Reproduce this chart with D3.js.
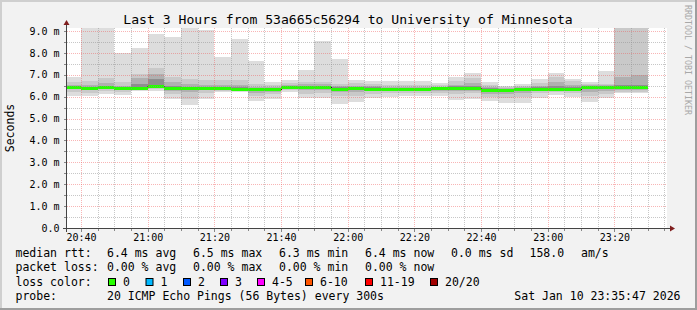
<!DOCTYPE html>
<html><head><meta charset="utf-8">
<script src="https://cdn.jsdelivr.net/npm/d3@7"></script>
<style>
html,body{margin:0;padding:0;background:#f2f2f2;}
svg{display:block;}
text{font-family:"DejaVu Sans Mono",monospace;fill:#000;}
</style>
</head><body>
<svg id="chart" width="697" height="310"></svg>
<script>
// ---------- data ----------
const barTimes = ["20:35","20:40","20:45","20:50","20:55","21:00","21:05","21:10","21:15","21:20",
  "21:25","21:30","21:35","21:40","21:45","21:50","21:55","22:00","22:05","22:10",
  "22:15","22:20","22:25","22:30","22:35","22:40","22:45","22:50","22:55","23:00",
  "23:05","23:10","23:15","23:20","23:25"];
// values in ms
const medianRtt = [6.45,6.40,6.43,6.38,6.40,6.47,6.40,6.38,6.40,6.40,
  6.36,6.33,6.34,6.42,6.45,6.45,6.37,6.38,6.37,6.34,
  6.34,6.36,6.38,6.40,6.40,6.30,6.30,6.34,6.37,6.33,
  6.33,6.45,6.45,6.42,6.42];
const pingMin = [6.02,6.02,6.10,6.08,6.25,6.25,5.90,5.62,5.90,6.20,
  6.20,5.82,5.90,6.20,5.92,5.95,5.68,5.77,5.92,6.00,
  6.03,6.05,6.03,5.85,5.90,5.80,5.70,5.70,5.95,6.08,
  6.00,5.77,5.92,6.15,6.15];
const pingMax = [6.88,9.40,9.40,8.01,8.21,8.86,8.71,9.40,9.05,7.81,
  8.62,7.63,6.68,6.76,7.22,8.53,7.72,6.76,6.72,6.72,
  6.70,6.72,6.61,6.88,7.07,6.66,6.49,6.56,6.81,7.07,
  6.81,6.66,7.19,9.40,9.40];
const band1Lo = [6.22,6.18,6.25,6.22,6.30,6.35,6.10,5.90,6.15,6.28,
  6.25,6.05,6.10,6.30,6.12,6.18,6.02,6.05,6.12,6.15,
  6.15,6.18,6.18,6.10,6.15,5.98,5.95,6.00,6.15,6.20,
  6.15,6.05,6.12,6.22,6.22];
const band1Hi = [6.65,6.72,6.85,6.68,7.03,7.32,6.88,6.80,6.76,6.75,
  6.78,6.60,6.55,6.62,6.68,6.66,6.60,6.62,6.58,6.55,
  6.55,6.55,6.52,6.70,6.85,6.55,6.45,6.50,6.62,6.90,
  6.70,6.60,6.60,9.40,9.40];
const band2Lo = [6.33,6.30,6.35,6.32,6.38,6.42,6.25,6.20,6.30,6.34,
  6.30,6.18,6.22,6.36,6.30,6.32,6.22,6.22,6.26,6.25,
  6.25,6.27,6.28,6.25,6.28,6.12,6.12,6.18,6.27,6.26,
  6.25,6.22,6.28,6.32,6.32];
const band2Hi = [6.55,6.55,6.62,6.50,6.83,7.05,6.65,6.58,6.55,6.52,
  6.52,6.45,6.45,6.52,6.58,6.56,6.50,6.50,6.48,6.45,
  6.45,6.45,6.45,6.55,6.62,6.45,6.38,6.42,6.48,6.65,
  6.52,6.55,6.52,6.92,6.98];
const band3Lo = [6.40,6.36,6.40,6.36,6.40,6.45,6.32,6.30,6.36,6.38,
  6.33,6.24,6.28,6.39,6.38,6.40,6.31,6.32,6.32,6.30,
  6.30,6.31,6.33,6.34,6.35,6.22,6.22,6.27,6.32,6.30,
  6.29,6.35,6.38,6.38,6.38];
const band3Hi = [6.50,6.46,6.50,6.44,6.60,6.80,6.48,6.45,6.46,6.45,
  6.42,6.38,6.40,6.46,6.50,6.50,6.42,6.43,6.42,6.40,
  6.40,6.40,6.42,6.47,6.50,6.38,6.35,6.38,6.42,6.48,
  6.42,6.50,6.48,6.55,6.55];

const yTicks = [0,1,2,3,4,5,6,7,8,9];
const yTickLabels = ["0.0","1.0 m","2.0 m","3.0 m","4.0 m","5.0 m","6.0 m","7.0 m","8.0 m","9.0 m"];
const xTickLabels = ["20:40","21:00","21:20","21:40","22:00","22:20","22:40","23:00","23:20"];

const titleText = "Last 3 Hours from 53a665c56294 to University of Minnesota";
const rttStats = ["6.4 ms avg","6.5 ms max","6.3 ms min","6.4 ms now","0.0 ms sd","158.0","am/s"];
const lossStats = ["0.00 % avg","0.00 % max","0.00 % min","0.00 % now"];
const lossLabels = ["0","1","2","3","4-5","6-10","11-19","20/20"];
const lossColors = ["#26ff00","#00b8ff","#0059ff","#7e00ff","#ff00ff","#ff5500","#ff0000","#a10000"];
const probeText = "20 ICMP Echo Pings (56 Bytes) every 300s";
const dateText = "Sat Jan 10 23:35:47 2026";

// ---------- layout ----------
const W = 697, H = 310;
const L = 67, R = 667, T = 28, B = 228;
const svg = d3.select("#chart");
const day = (hm, s=0) => { const [h,m] = hm.split(":").map(Number); return new Date(2026,0,10,h,m,s); };
const x = d3.scaleTime().domain([day("20:35",47), day("23:35",47)]).range([L, R]);
const y = d3.scaleLinear().domain([0, 9.137]).range([B, T]);

// background + frame
svg.append("rect").attr("width",W).attr("height",H).attr("fill","#f2f2f2");
svg.append("rect").attr("x",0).attr("y",0).attr("width",W).attr("height",2).attr("fill","#cfcfcf");
svg.append("rect").attr("x",0).attr("y",0).attr("width",2).attr("height",H).attr("fill","#cfcfcf");
svg.append("rect").attr("x",0).attr("y",H-2).attr("width",W).attr("height",2).attr("fill","#9e9e9e");
svg.append("rect").attr("x",W-2).attr("y",0).attr("width",2).attr("height",H).attr("fill","#9e9e9e");

// canvas
svg.append("rect").attr("x",L).attr("y",T).attr("width",R-L).attr("height",B-T).attr("fill","#fff");

svg.append("clipPath").attr("id","plotclip").append("rect")
  .attr("x",L).attr("y",T).attr("width",R-L).attr("height",B-T);
const plot = svg.append("g").attr("clip-path","url(#plotclip)").attr("shape-rendering","crispEdges");

const bars = barTimes.map((t,i)=>({
  t0: day(t), t1: new Date(day(t).getTime()+5*60000),
  med: medianRtt[i],
  bands: [[pingMin[i],pingMax[i]],[band1Lo[i],band1Hi[i]],[band2Lo[i],band2Hi[i]],[band3Lo[i],band3Hi[i]]]
}));
const smokeColors = ["#dddddd","#c9c9c9","#b0b0b0","#8e8e8e"];

bars.forEach(b=>{
  const x0 = Math.round(x(b.t0)), x1 = Math.round(x(b.t1));
  b.bands.forEach((bd,j)=>{
    const y0 = Math.round(y(bd[1])), y1 = Math.round(y(bd[0]));
    plot.append("rect").attr("x",x0).attr("width",x1-x0)
      .attr("y",y0).attr("height",Math.max(1,y1-y0)).attr("fill",smokeColors[j]);
  });
});

// grid (drawn over smoke, as rrdtool does)
const grid = svg.append("g").attr("shape-rendering","crispEdges");
const minorX = x.ticks(d3.timeMinute.every(5)).filter(d=>x(d)>L && x(d)<=R);
const majorX = xTickLabels.map(s=>day(s));
const minorY = d3.range(0.5, 9.1, 0.5).filter(v=>v%1!==0);
const minorCol = "rgba(143,143,143,0.5)", majorCol = "rgba(240,90,90,0.45)";
minorX.forEach(d=>{
  if (d.getMinutes()%20===0) return;
  const px = Math.round(x(d))+0.5;
  grid.append("line").attr("x1",px).attr("x2",px).attr("y1",T).attr("y2",B)
    .attr("stroke",minorCol).attr("stroke-dasharray","1,1");
});
minorY.forEach(v=>{
  const py = Math.round(y(v))+0.5;
  grid.append("line").attr("x1",L).attr("x2",R).attr("y1",py).attr("y2",py)
    .attr("stroke",minorCol).attr("stroke-dasharray","1,1");
});
majorX.forEach(d=>{
  const px = Math.round(x(d))+0.5;
  grid.append("line").attr("x1",px).attr("x2",px).attr("y1",T).attr("y2",B)
    .attr("stroke",majorCol).attr("stroke-dasharray","1,1");
});
yTicks.slice(1).forEach(v=>{
  const py = Math.round(y(v))+0.5;
  grid.append("line").attr("x1",L).attr("x2",R).attr("y1",py).attr("y2",py)
    .attr("stroke",majorCol).attr("stroke-dasharray","1,1");
});

// median: dark step line + loss-coloured band
const medLine = d3.line().curve(d3.curveStepAfter).x(d=>x(d[0])).y(d=>Math.round(y(d[1]))+0.5);
const medPts = bars.map(b=>[b.t0,b.med]).concat([[bars[bars.length-1].t1, bars[bars.length-1].med]]);
plot.append("path").attr("d",medLine(medPts)).attr("fill","none").attr("stroke","#202020").attr("stroke-width",1);
bars.forEach(b=>{
  const x0 = Math.round(x(b.t0)), x1 = Math.round(x(b.t1));
  plot.append("rect").attr("x",x0).attr("width",x1-x0)
    .attr("y",Math.round(y(b.med))-1).attr("height",3).attr("fill",lossColors[0]);
});

// axes
const xMinorAxis = d3.axisBottom(x).tickValues(minorX).tickSize(2).tickFormat("");
const xAxis = d3.axisBottom(x).tickValues(majorX).tickSize(3).tickPadding(2)
  .tickFormat((d,i)=>xTickLabels[i]);
const yAxis = d3.axisLeft(y).tickValues(d3.range(0,9.1,0.5)).tickSize(3).tickPadding(4)
  .tickFormat(v=>{const i=yTicks.indexOf(v); return i>=0?yTickLabels[i]:"";});

function styleAxis(g){
  g.select(".domain").remove();
  g.selectAll("line").attr("stroke","#888").attr("shape-rendering","crispEdges");
  g.selectAll("text").attr("font-family","DejaVu Sans Mono").attr("font-size","10px").attr("fill","#000");
}
svg.append("g").attr("transform",`translate(0,${B+0.5})`).call(xMinorAxis).call(styleAxis);
svg.append("g").attr("transform",`translate(0,${B+0.5})`).call(xAxis).call(styleAxis);
svg.append("g").attr("transform",`translate(${L-0.5},0)`).call(yAxis).call(styleAxis);

// axis lines + arrows
svg.append("line").attr("x1",L-0.5).attr("x2",L-0.5).attr("y1",B+4).attr("y2",T-6)
  .attr("stroke","#444").attr("shape-rendering","crispEdges");
svg.append("line").attr("x1",L-4).attr("x2",R+5).attr("y1",B+0.5).attr("y2",B+0.5)
  .attr("stroke","#444").attr("shape-rendering","crispEdges");
svg.append("path").attr("d",`M${L-3.5},${T-3} L${L+2.5},${T-3} L${L-0.5},${T-8} Z`).attr("fill","#801f1f");
svg.append("path").attr("d",`M${R+3},${B-2.5} L${R+3},${B+3.5} L${R+8},${B+0.5} Z`).attr("fill","#801f1f");

// title
svg.append("text").attr("x",348).attr("y",24).attr("text-anchor","middle")
  .attr("font-size","13.1px").text(titleText);
// y title
svg.append("text").attr("transform","translate(14,128) rotate(-90)").attr("text-anchor","middle")
  .attr("font-size","11.5px").text("Seconds");
// watermark
svg.append("text").attr("transform","translate(685,5) rotate(90)").attr("text-anchor","start")
  .attr("font-size","8.3px").style("fill","#a8a8a8").text("RRDTOOL / TOBI OETIKER");

// legend
const lg = svg.append("g").attr("font-size","11.5px");
const rowY = [257, 271.3, 285.7, 300];
const colX = [107, 193, 279, 365, 451, 529.5, 581];
lg.append("text").attr("x",15.5).attr("y",rowY[0]).text("median rtt:");
rttStats.forEach((s,i)=>lg.append("text").attr("x",colX[i]).attr("y",rowY[0]).text(s));
lg.append("text").attr("x",15.5).attr("y",rowY[1]).text("packet loss:");
lossStats.forEach((s,i)=>lg.append("text").attr("x",colX[i]).attr("y",rowY[1]).text(s));
lg.append("text").attr("x",15.5).attr("y",rowY[2]).text("loss color:");
const boxX = [108, 145.5, 183, 220, 257, 305, 365, 430];
lossLabels.forEach((s,i)=>{
  lg.append("rect").attr("x",boxX[i]+0.5).attr("y",278.5).attr("width",7).attr("height",7)
    .attr("fill",lossColors[i]).attr("stroke","#000").attr("stroke-width",1);
  lg.append("text").attr("x",boxX[i]+15).attr("y",rowY[2]).text(s);
});
lg.append("text").attr("x",15.5).attr("y",rowY[3]).text("probe:");
lg.append("text").attr("x",107).attr("y",rowY[3]).text(probeText);
lg.append("text").attr("x",680.5).attr("y",rowY[3]).attr("text-anchor","end").text(dateText);
</script>
</body></html>
